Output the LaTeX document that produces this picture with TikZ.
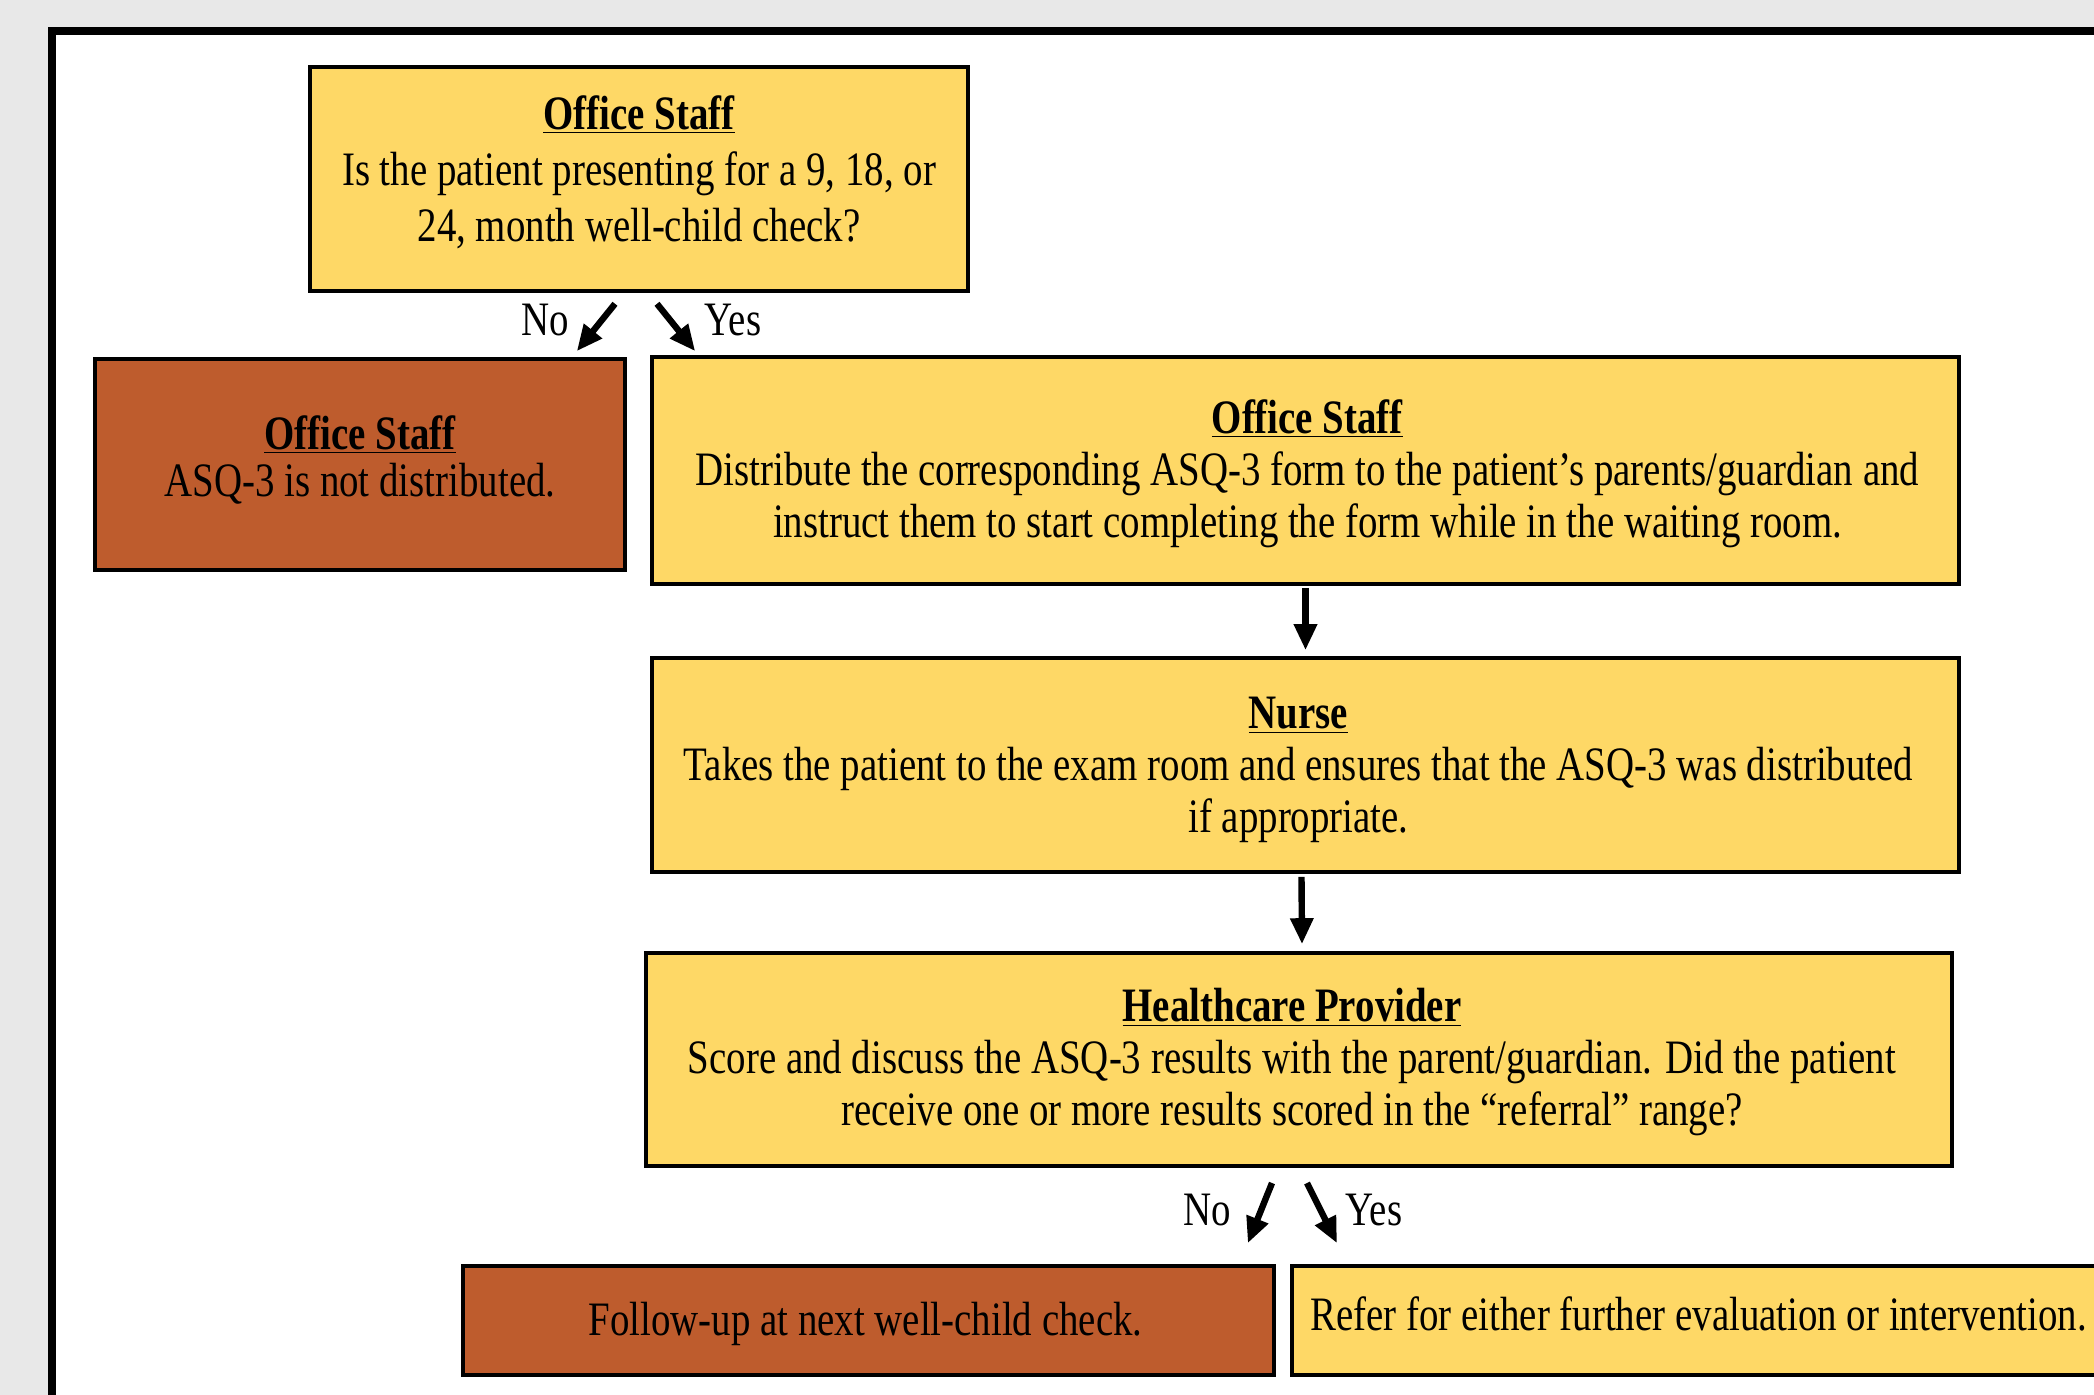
\documentclass[tikz,border=0pt]{standalone}
\usepackage{fontspec}
\setmainfont{Liberation Serif}[FakeStretch=0.81]
\usetikzlibrary{arrows.meta,calc}
\definecolor{boxyellow}{HTML}{FED866}
\definecolor{boxorange}{HTML}{BE5C2D}
\definecolor{pagegrey}{HTML}{E8E8E8}
\tikzset{
  stepbox/.style={draw=black, line width=1.8pt, fill=boxyellow, inner sep=0pt},
  endbox/.style={stepbox, fill=boxorange},
  boxtext/.style={align=center, inner sep=0pt, font=\fontsize{24}{26}\selectfont},
  flowarrow/.style={line width=3.2pt, -{Triangle[length=13pt,width=11pt]}},
  answer/.style={font=\fontsize{24}{26}\selectfont, inner sep=0pt}
}
\newcommand{\rolehead}[1]{\underline{\textbf{#1}}}
\begin{document}
\begin{tikzpicture}[x=0.5pt,y=-0.5pt]
\useasboundingbox (0,0) rectangle (2094,1395);
\fill[pagegrey] (0,0) rectangle (2094,1395);
\draw[line width=3.8pt, fill=white] (52,31) rectangle (2200,1500);

% boxes
\node[stepbox, minimum width=329pt, minimum height=112pt] (q1) at (639,179) {};
\node[boxtext, font=\fontsize{24}{28}\selectfont] (q1t) at ($(q1)+(0,-7)$)
  {\rolehead{Office Staff}\\ Is the patient presenting for a 9, 18, or\\ 24, month well-child check?};

\node[endbox, minimum width=265pt, minimum height=105.5pt] (nodist) at (360,464.5) {};
\node[boxtext, font=\fontsize{24}{23.5}\selectfont] (nodistt) at ($(nodist)+(0,-5)$)
  {\rolehead{Office Staff}\\ ASQ-3 is not distributed.};

\node[stepbox, minimum width=653.5pt, minimum height=113.5pt] (dist) at (1305.5,470.5) {};
\node[boxtext] (distt) at ($(dist)+(2,3)$)
  {\rolehead{Office Staff}\\ Distribute the corresponding ASQ-3 form to the patient’s parents/guardian and\\ instruct them to start completing the form while in the waiting room.};

\node[stepbox, minimum width=653.5pt, minimum height=107pt] (nurse) at (1305.5,765) {};
\node[boxtext] (nurset) at ($(nurse)+(-7,5)$)
  {\rolehead{Nurse}\\ Takes the patient to the exam room and ensures that the ASQ-3 was distributed\\ if appropriate.};

\node[stepbox, minimum width=653pt, minimum height=106.5pt] (hcp) at (1299,1059.5) {};
\node[boxtext] (hcpt) at ($(hcp)+(-7,3)$)
  {\rolehead{Healthcare Provider}\\ Score and discuss the ASQ-3 results with the parent/guardian. Did the patient\\ receive one or more results scored in the “referral” range?};

\node[endbox, minimum width=405.5pt, minimum height=54.5pt] (follow) at (868.5,1320.5) {};
\node[boxtext] (followt) at ($(follow)+(-3,3)$) {Follow-up at next well-child check.};

\node[stepbox, anchor=west, minimum width=425pt, minimum height=54.5pt] (refer) at (1290,1320.5) {};
\node[boxtext, anchor=west] (refert) at ($(refer.west)+(20,-7)$) {Refer for either further evaluation or intervention.};

% connectors
\coordinate (n1s) at ($(q1.south)+(-24,11)$); \coordinate (n1e) at ($(nodist.north east)+(-50,-6)$);
\coordinate (y1s) at ($(q1.south)+(18,11)$);  \coordinate (y1e) at ($(dist.north west)+(45,-4)$);
\draw[flowarrow] (n1s) -- (n1e);
\draw[flowarrow] (y1s) -- (y1e);
\node[answer] (no1) at (545,320) {No};
\node[answer] (yes1) at (733,320) {Yes};

\draw[flowarrow] ($(dist.south)+(0,2)$) -- ($(nurse.north)+(0,-6)$);
\draw[flowarrow] ($(nurse.south)+(-4,3)$) -- ($(hcp.north)+(3,-7)$);

\coordinate (n2s) at (1272,1183); \coordinate (n2e) at ($(follow.north east)+(-28,-21)$);
\coordinate (y2s) at (1307,1183); \coordinate (y2e) at ($(refer.north west)+(47,-21)$);
\draw[flowarrow] (n2s) -- (n2e);
\draw[flowarrow] (y2s) -- (y2e);
\node[answer] (no2) at (1207,1210) {No};
\node[answer] (yes2) at (1374,1210) {Yes};
\end{tikzpicture}
\end{document}
